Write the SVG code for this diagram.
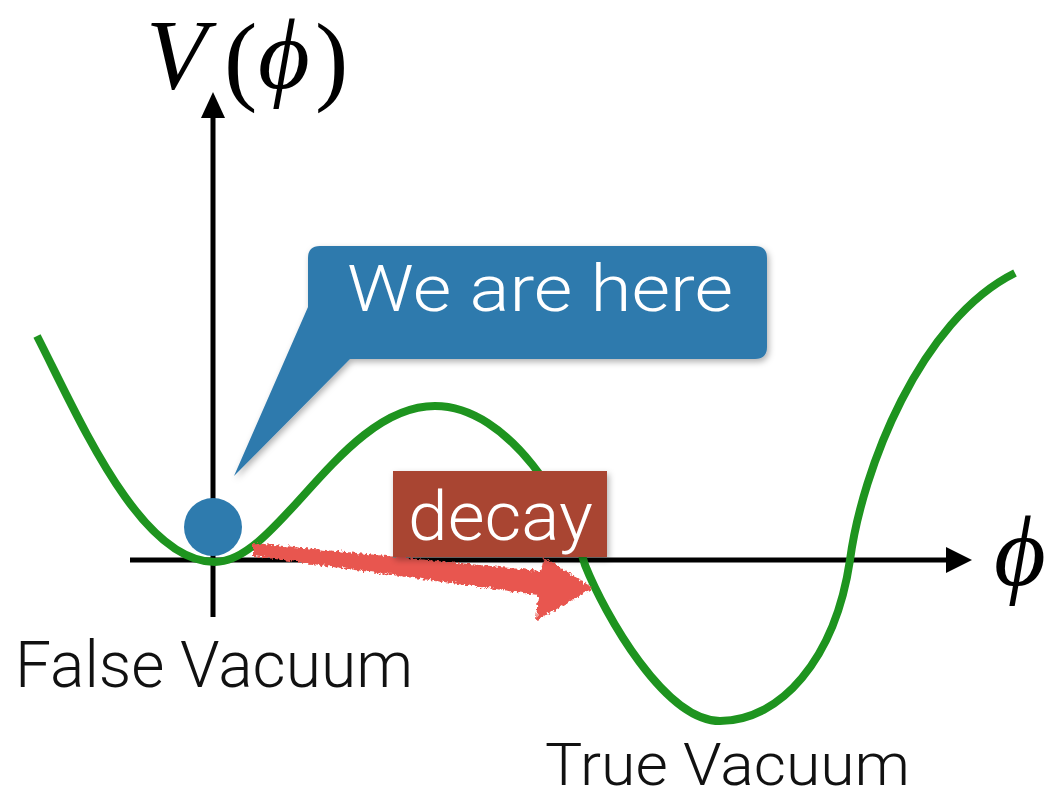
<svg xmlns="http://www.w3.org/2000/svg" width="1047" height="798" viewBox="0 0 1047 798">
<style>
.lbl{font-family:Roboto,"Liberation Sans",sans-serif;font-weight:300;fill:#111}
.wt{font-family:Roboto,"Liberation Sans",sans-serif;font-weight:300;fill:#fff}
.math{font-family:"Liberation Serif","DejaVu Serif",serif;fill:#000}
.axis{stroke:#000;stroke-width:5;fill:none}
</style>
<defs>
<filter id="shadow" x="-10%" y="-10%" width="130%" height="140%">
<feDropShadow dx="2" dy="3" stdDeviation="3" flood-color="#000" flood-opacity="0.3"/>
</filter>
<filter id="rough" x="-5%" y="-10%" width="110%" height="130%">
<feTurbulence type="fractalNoise" baseFrequency="0.35" numOctaves="2" seed="3" result="n"/>
<feDisplacementMap in="SourceGraphic" in2="n" scale="6" xChannelSelector="R" yChannelSelector="G"/>
</filter>
</defs>
<rect width="1047" height="798" fill="#fff"/>
<g id="axes">
<line class="axis" x1="130" y1="560" x2="950" y2="560"/>
<polygon points="946,547 972,560 946,573" fill="#000"/>
<line class="axis" x1="213" y1="617" x2="213" y2="114"/>
<polygon points="201,118 213,92 225,118" fill="#000"/>
</g>
<g id="potential">
<path d="M37,336 C80,420 140,562 215,562 C278,562 342,406 435,406 C510,406 570,510 585,565 C605,615 665,721 720,721 C780,721 835,660 850,560 C862,470 920,320 1015,273" fill="none" stroke="#1e941f" stroke-width="8" stroke-linecap="butt"/>
</g>
<g id="ball">
<circle cx="213" cy="527" r="29" fill="#2e7bae"/>
</g>
<g id="connectors">
<polygon points="253,543 541,571 544,557 593,588 536,621 538,595 253,556" fill="#e8574f" filter="url(#rough)"/>
</g>
<g id="bubble" filter="url(#shadow)">
<path d="M322,246 H755 Q767,246 767,258 V347 Q767,359 755,359 H350 L234,476 L308,307 V258 Q308,246 320,246 Z" fill="#2f7aad"/>
<text class="wt" x="347" y="311" font-size="64" textLength="386" lengthAdjust="spacingAndGlyphs">We are here</text>
</g>
<g id="decay" filter="url(#shadow)">
<rect x="393" y="471" width="214" height="86" fill="#a94431"/>
<text class="wt" x="408" y="540" font-size="68" textLength="185" lengthAdjust="spacingAndGlyphs">decay</text>
</g>
<g id="title">
<text class="math" x="146" y="88" font-size="100" font-style="italic">V</text>
<text class="math" x="224" y="92" font-size="100">(</text>
<text class="math" x="258" y="88" font-size="100" font-style="italic">ϕ</text>
<text class="math" x="315" y="92" font-size="100">)</text>
</g>
<g id="xlabel">
<text class="math" x="994" y="585" font-size="100" font-style="italic">ϕ</text>
</g>
<g id="labels">
<text class="lbl" x="15" y="687" font-size="64" textLength="398" lengthAdjust="spacingAndGlyphs">False Vacuum</text>
<text class="lbl" x="545" y="785" font-size="60" textLength="365" lengthAdjust="spacingAndGlyphs">True Vacuum</text>
</g>
</svg>
